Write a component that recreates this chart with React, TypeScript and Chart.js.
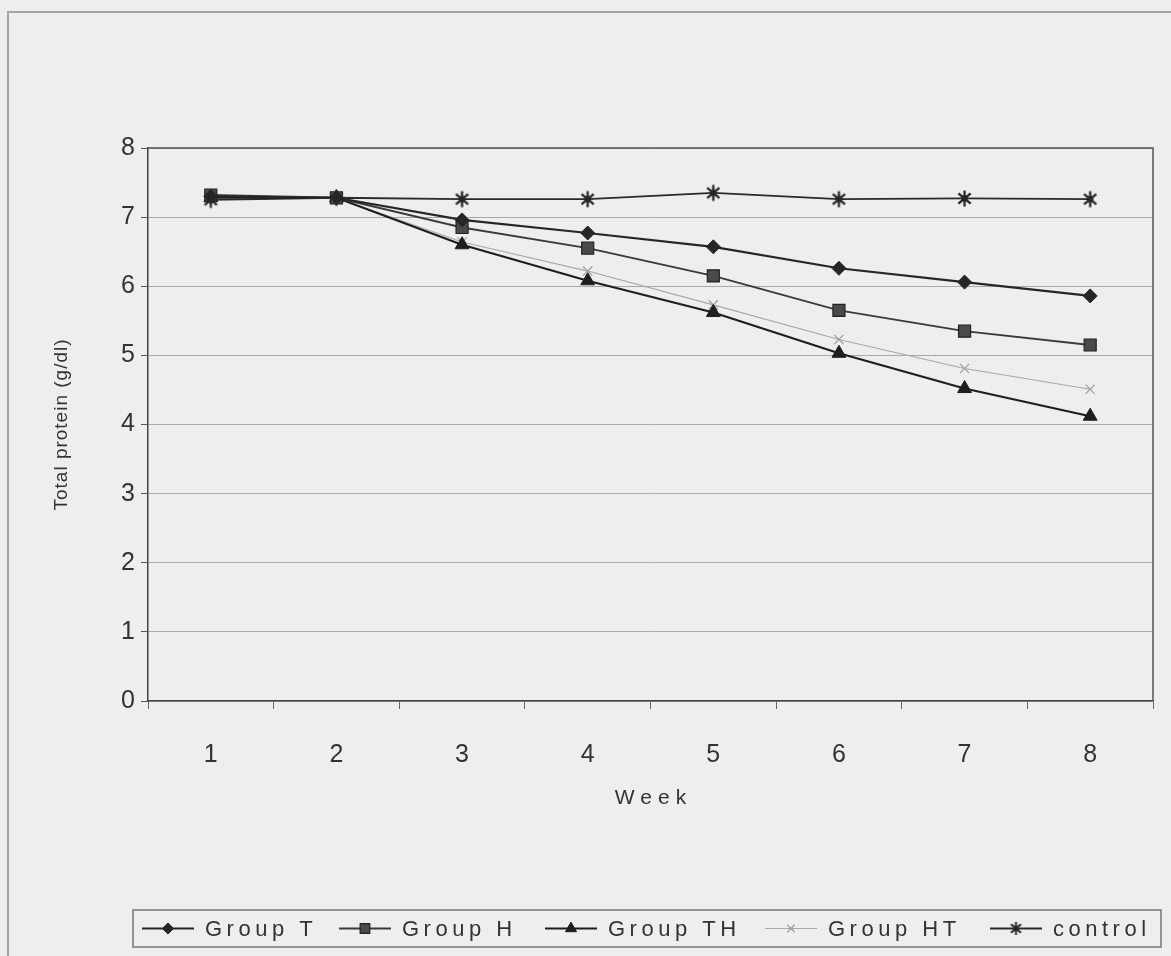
import React, { useEffect, useRef } from 'react';
import { Chart, registerables } from 'chart.js';
import { drawPoint } from 'chart.js/helpers';

Chart.register(...registerables);

// ---------- data ----------
const weeks = ['1', '2', '3', '4', '5', '6', '7', '8'];
const groupT = [7.3, 7.28, 6.96, 6.77, 6.57, 6.26, 6.06, 5.86];
const groupH = [7.32, 7.28, 6.85, 6.55, 6.15, 5.65, 5.35, 5.15];
const groupTH = [7.28, 7.28, 6.6, 6.08, 5.62, 5.03, 4.52, 4.12];
const groupHT = [7.3, 7.28, 6.64, 6.22, 5.73, 5.23, 4.81, 4.51];
const control = [7.25, 7.28, 7.26, 7.26, 7.35, 7.26, 7.27, 7.26];
const seriesNames = ['Group T', 'Group H', 'Group TH', 'Group HT', 'control'];
const yTicks = [0, 1, 2, 3, 4, 5, 6, 7, 8];
const xTitle = 'Week';
const yTitle = 'Total protein (g/dl)';

// ---------- styles ----------
const W = 1171;
const H = 956;
const BG = '#eeeeee';
const SANS = "'Liberation Sans', Arial, Helvetica, sans-serif";
const LEGEND_X = [142, 339, 545, 765, 990];

function makeAsterisk(r: number, color: string, lw: number): HTMLCanvasElement {
  const c = document.createElement('canvas');
  const s = Math.ceil(r * 2 + lw * 2);
  c.width = s;
  c.height = s;
  const g = c.getContext('2d')!;
  g.strokeStyle = color;
  g.lineWidth = lw;
  const cx = s / 2;
  const cy = s / 2;
  for (const a of [90, 40, 140]) {
    const rad = (a * Math.PI) / 180;
    g.beginPath();
    g.moveTo(cx - r * Math.cos(rad), cy - r * Math.sin(rad));
    g.lineTo(cx + r * Math.cos(rad), cy + r * Math.sin(rad));
    g.stroke();
  }
  g.fillStyle = color;
  g.beginPath();
  g.arc(cx, cy, lw * 1.4, 0, Math.PI * 2);
  g.fill();
  return c;
}

const decorPlugin = {
  id: 'decor',
  beforeDraw(chart: any) {
    const ctx = chart.ctx;
    ctx.save();
    ctx.fillStyle = BG;
    ctx.fillRect(0, 0, W, H);
    // outer chart-area frame
    ctx.strokeStyle = '#a4a4a4';
    ctx.lineWidth = 2;
    ctx.beginPath();
    ctx.moveTo(8, H);
    ctx.lineTo(8, 12);
    ctx.lineTo(W, 12);
    ctx.stroke();
    ctx.restore();
  },
  afterDraw(chart: any) {
    const ctx = chart.ctx;
    const a = chart.chartArea;
    ctx.save();
    // plot frame top & right
    ctx.strokeStyle = '#555';
    ctx.lineWidth = 1.5;
    ctx.beginPath();
    ctx.moveTo(a.left, a.top);
    ctx.lineTo(a.right, a.top);
    ctx.lineTo(a.right, a.bottom);
    ctx.stroke();

    // x title
    ctx.fillStyle = '#333';
    ctx.font = `21px ${SANS}`;
    (ctx as any).letterSpacing = '6px';
    ctx.textAlign = 'center';
    ctx.textBaseline = 'middle';
    ctx.fillText(xTitle, (a.left + a.right) / 2 + 3, 798);

    // y title
    ctx.save();
    (ctx as any).letterSpacing = '1px';
    ctx.font = `19px ${SANS}`;
    ctx.translate(62, (a.top + a.bottom) / 2);
    ctx.rotate(-Math.PI / 2);
    ctx.fillText(yTitle, 0, 0);
    ctx.restore();

    // legend
    const box = { x: 133, y: 910, w: 1028, h: 37 };
    (ctx as any).letterSpacing = '0px';
    ctx.strokeStyle = '#777';
    ctx.lineWidth = 1.5;
    ctx.strokeRect(box.x, box.y, box.w, box.h);
    const cy = box.y + box.h / 2;
    const lineLen = 52;
    ctx.font = `22px ${SANS}`;
    ctx.textAlign = 'left';
    ctx.textBaseline = 'middle';
    chart.data.datasets.forEach((ds: any, i: number) => {
      const x = LEGEND_X[i];
      (ctx as any).letterSpacing = '0px';
      ctx.strokeStyle = ds.borderColor;
      ctx.lineWidth = ds.borderWidth;
      ctx.beginPath();
      ctx.moveTo(x, cy);
      ctx.lineTo(x + lineLen, cy);
      ctx.stroke();
      ctx.fillStyle = ds.pointBackgroundColor;
      ctx.strokeStyle = ds.pointBorderColor;
      ctx.lineWidth = ds.pointBorderWidth;
      drawPoint(ctx, {
        pointStyle: ds.legendStyle || ds.pointStyle,
        rotation: 0,
        radius: ds.pointRadius * 0.8,
        borderWidth: ds.pointBorderWidth,
      }, x + lineLen / 2, cy);
      (ctx as any).letterSpacing = '4.5px';
      ctx.fillStyle = '#333';
      ctx.fillText(ds.label, x + lineLen + 11, cy + 1);
    });
    ctx.restore();
  },
};

export default function App() {
  const ref = useRef<HTMLCanvasElement>(null);
  useEffect(() => {
    document.body.style.margin = '0';
    document.body.style.background = BG;
    const star = makeAsterisk(8, '#262626', 2.3);
    const starSmall = makeAsterisk(6.5, '#262626', 2);
    const colors = ['#262626', '#3a3a3a', '#1e1e1e', '#a8a8a8', '#2a2a2a'];
    const values = [groupT, groupH, groupTH, groupHT, control];
    const styles: any[] = [
      { pointStyle: 'rectRot', pointRadius: 7, pointBackgroundColor: '#262626', pointBorderColor: '#262626', pointBorderWidth: 1, borderWidth: 2.2 },
      { pointStyle: 'rect', pointRadius: 8.5, pointBackgroundColor: '#4a4a4a', pointBorderColor: '#222', pointBorderWidth: 1.2, borderWidth: 1.8 },
      { pointStyle: 'triangle', pointRadius: 8, pointBackgroundColor: '#1e1e1e', pointBorderColor: '#1e1e1e', pointBorderWidth: 1, borderWidth: 2.2 },
      { pointStyle: 'crossRot', pointRadius: 6.5, pointBackgroundColor: '#a8a8a8', pointBorderColor: '#a0a0a0', pointBorderWidth: 1.3, borderWidth: 1.2 },
      { pointStyle: star, legendStyle: starSmall, pointRadius: 8, pointBackgroundColor: '#262626', pointBorderColor: '#262626', pointBorderWidth: 1, borderWidth: 1.8 },
    ];
    const datasets = seriesNames.map((name, i) => ({
      label: name,
      data: values[i],
      borderColor: colors[i],
      tension: 0,
      fill: false,
      ...styles[i],
    }));
    const chart = new Chart(ref.current!, {
      type: 'line',
      data: { labels: weeks, datasets },
      options: {
        responsive: false,
        animation: false,
        devicePixelRatio: 1,
        layout: { padding: { top: 148, right: 18, left: 52, bottom: 0 } },
        plugins: { legend: { display: false }, tooltip: { enabled: false } },
        scales: {
          x: {
            type: 'category',
            offset: true,
            grid: { offset: true, drawOnChartArea: false, drawTicks: true, tickLength: 8, color: '#666', tickColor: '#666', lineWidth: 1 },
            border: { display: true, color: '#444', width: 1.5 },
            ticks: { color: '#333', font: { family: SANS, size: 25 }, padding: 31, maxRotation: 0, autoSkip: false },
            afterFit: (s: any) => { s.height = 255; },
          },
          y: {
            min: yTicks[0],
            max: yTicks[yTicks.length - 1],
            afterBuildTicks: (s: any) => { s.ticks = yTicks.map((v) => ({ value: v })); },
            ticks: { color: '#333', font: { family: SANS, size: 25 }, padding: 6 },
            grid: { color: '#a9a9a9', lineWidth: 1, tickLength: 7, tickColor: '#555', drawTicks: true },
            border: { color: '#444', width: 1.5 },
            afterFit: (s: any) => { s.width = 96; },
          },
        },
      } as any,
      plugins: [decorPlugin],
    });
    return () => chart.destroy();
  }, []);
  return (
    <div style={{ width: W, height: H, background: BG }}>
      <canvas ref={ref} width={W} height={H} style={{ display: 'block', width: W, height: H }} />
    </div>
  );
}
